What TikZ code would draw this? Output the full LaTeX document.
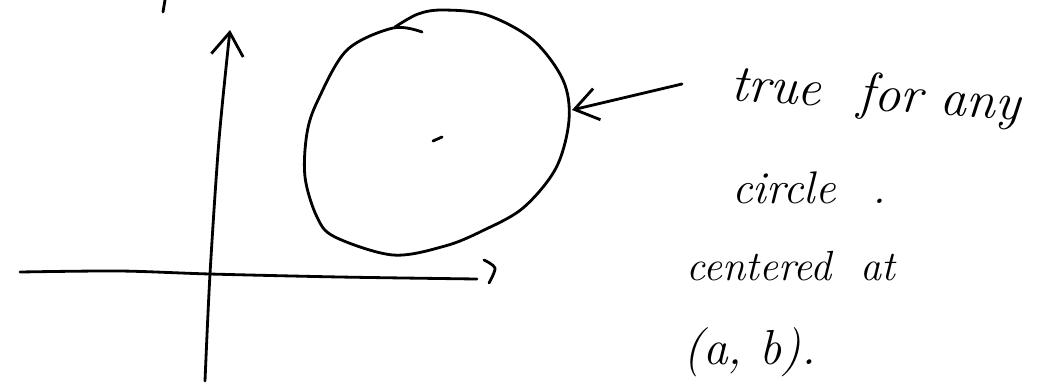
\documentclass[tikz,border=0pt]{standalone}
\usetikzlibrary{arrows.meta,positioning}

\begin{document}
\begin{tikzpicture}[
  x=0.02cm, y=-0.02cm,
  pen/.style={line width=1.6pt, line cap=round, line join=round},
  barb/.style={-{Straight Barb[length=4.6mm, width=6.4mm, line width=1.6pt]}},
  hand/.style={font=\fontsize{30}{36}\selectfont\itshape, inner sep=0pt, anchor=base west}
]
\useasboundingbox (0,0) rectangle (1037,383);

% axes
\draw[pen, barb] plot[smooth] coordinates {(205,381) (210,274) (219,140) (230,30)};
\draw[pen] plot[smooth] coordinates {(20,272) (120,271) (210,274) (340,277) (477,279)};
\draw[pen] plot[smooth] coordinates {(484,260) (495,268) (489,283)};
\draw[pen] (165,0) -- (163,12);

% the circle
\draw[pen] plot[smooth, tension=0.55] coordinates {
  (422,32) (393,28) (347,50) (318,100) (307,133) (305,177) (317,217) (335,237)
  (393,255) (445,246) (482,231) (523,208) (556,168) (569,120) (563,80)
  (533,40) (487,15) (443,10) (418,14) (395,27)};
\coordinate (circE) at (572,110);
\draw[pen] (433,141) -- (442,137);

% the text
\node[hand, rotate=-4] (truefor) at (730,100) {true \ for any};
\node[hand, font=\fontsize{26}{32}\selectfont\itshape] (circ) at (732,203) {circle\hspace{0.8em}.};
\node[hand, font=\fontsize{24}{30}\selectfont\itshape] (centered) at (686,280) {centered \ at};
\node[hand, font=\fontsize{28}{34}\selectfont\itshape] (ab) at (683,364) {(a, b).};

% arrow to the circle
\coordinate (tail) at (682,84);
\draw[pen, barb] (tail) -- (circE);

\end{tikzpicture}
\end{document}
